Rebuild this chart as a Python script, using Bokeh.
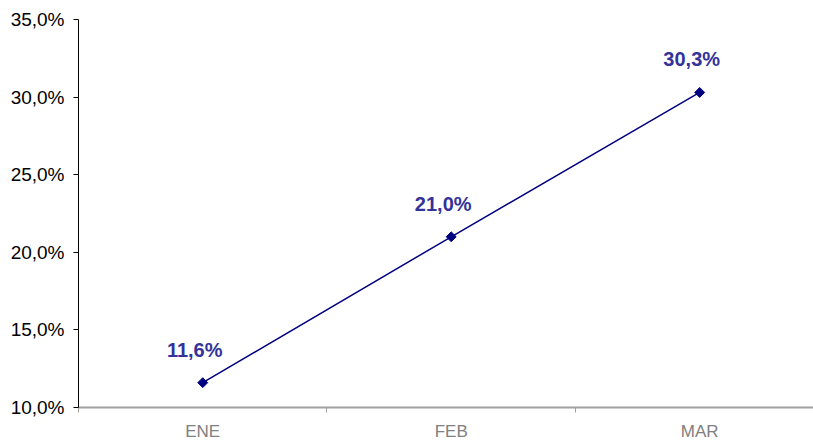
import math
from bokeh.plotting import figure
from bokeh.models import FixedTicker, ColumnDataSource, Range1d, LabelSet
from bokeh.core.properties import value
from bokeh.embed import file_html
from bokeh.resources import INLINE

categories = ["ENE", "FEB", "MAR"]
values = [11.6, 21.0, 30.3]
value_labels = ["11,6%", "21,0%", "30,3%"]
y_ticks = [10, 15, 20, 25, 30, 35]
y_tick_labels = ["10,0%", "15,0%", "20,0%", "25,0%", "30,0%", "35,0%"]

xs = list(range(len(categories)))
src = ColumnDataSource(dict(x=xs, y=values, lab=value_labels))

p = figure(width=813, height=443, output_backend="svg", toolbar_location=None,
           x_range=Range1d(-0.5, 2.458), y_range=Range1d(10, 35),
           min_border_left=78, min_border_right=0, min_border_top=19, min_border_bottom=36)
p.outline_line_color = None
p.xgrid.visible = False
p.ygrid.visible = False
p.background_fill_color = "white"
p.border_fill_color = "white"

p.line("x", "y", source=src, line_color="#000080", line_width=1.5)
p.scatter("x", "y", source=src, marker="square", size=7, angle=math.pi / 4,
          fill_color="#000080", line_color="#000080")

labels = LabelSet(x="x", y="y", text="lab", source=src, x_offset=-8, y_offset=33,
                  text_align="center", text_baseline="middle",
                  text_font=value("Liberation Sans"), text_font_size=value("20px"),
                  text_font_style="bold", text_color="#333399")
p.add_layout(labels)

# x axis
p.xaxis.ticker = FixedTicker(ticks=xs, minor_ticks=[-0.5, 0.5, 1.5, 2.5])
p.xaxis.major_label_overrides = {i: c for i, c in enumerate(categories)}
p.xaxis.major_tick_line_color = None
p.xaxis.minor_tick_line_color = "#a0a0a0"
p.xaxis.minor_tick_in = 0
p.xaxis.minor_tick_out = 5
p.xaxis.axis_line_color = "#a0a0a0"
p.xaxis.axis_line_width = 2
p.xaxis.major_label_text_color = "#808080"
p.xaxis.major_label_text_font = "Liberation Sans"
p.xaxis.major_label_text_font_size = "17px"
p.xaxis.major_label_standoff = 8

# y axis
p.yaxis.ticker = FixedTicker(ticks=y_ticks, minor_ticks=[])
p.yaxis.major_label_overrides = {t: l for t, l in zip(y_ticks, y_tick_labels)}
p.yaxis.axis_line_color = "black"
p.yaxis.major_tick_line_color = "black"
p.yaxis.major_tick_in = 0
p.yaxis.major_tick_out = 5
p.yaxis.major_label_text_color = "#000000"
p.yaxis.major_label_text_font = "Liberation Sans"
p.yaxis.major_label_text_font_size = "19px"
p.yaxis.major_label_standoff = 9

open("out.html", "w").write(file_html(p, INLINE))
